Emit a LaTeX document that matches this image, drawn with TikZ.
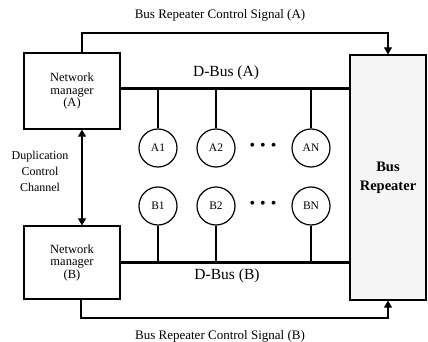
\documentclass[tikz,border=0pt]{standalone}
\usepackage{fontspec}
\setmainfont{Liberation Serif}
\usetikzlibrary{arrows.meta}
\begin{document}
\begin{tikzpicture}[x=1pt,y=-1pt,
  box/.style={draw,line width=1.2pt,inner sep=0pt},
  sig/.style={line width=1.1pt},
  bus/.style={line width=3pt},
  stub/.style={line width=1.1pt},
  station/.style={draw,circle,line width=1.2pt,minimum size=38pt,inner sep=0pt,font=\fontsize{11.5}{12}\selectfont},
  lbl/.style={font=\fontsize{13}{14}\selectfont},
  mgr/.style={box,align=center,font=\fontsize{12.5}{12.5}\selectfont},
  dots/.style={font=\fontsize{16}{16}\selectfont},
  tip/.style={-{Triangle[length=7pt,width=8pt]}}
]
\useasboundingbox (0,0) rectangle (428,342);
% boxes
\node[mgr,minimum width=96pt,minimum height=76pt] (nma) at (72,91) {Network\\manager\\(A)};
\node[mgr,minimum width=96pt,minimum height=73pt] (nmb) at (72,262.5) {Network\\manager\\(B)};
\node[box,fill=black!4,minimum width=76pt,minimum height=245pt,align=center,font=\bfseries\fontsize{14.5}{19}\selectfont] (rep) at (388,177.5) {Bus\\Repeater};
% buses
\coordinate (ba1) at (nma.east |- 0,89);
\coordinate (ba2) at (rep.west |- 0,89);
\coordinate (bb1) at (nmb.east |- 0,262);
\coordinate (bb2) at (rep.west |- 0,262);
\draw[bus] (ba1) -- (ba2);
\draw[bus] (bb1) -- (bb2);
\node[font=\fontsize{15.5}{17}\selectfont] (dba) at (226,73) {D-Bus (A)};
\node[font=\fontsize{15.5}{17}\selectfont] (dbb) at (227,276) {D-Bus (B)};
% stations
\node[station] (a1) at (158,148) {A1};
\node[station] (a2) at (216,148) {A2};
\node[station] (an) at (311,148) {AN};
\node[station] (b1) at (158,206) {B1};
\node[station] (b2) at (216,206) {B2};
\node[station] (bn) at (311,206) {BN};
\node[dots] (da) at (263,147) {\textbullet\hspace{5pt}\textbullet\hspace{5pt}\textbullet};
\node[dots] (db) at (263,205) {\textbullet\hspace{5pt}\textbullet\hspace{5pt}\textbullet};
\foreach \s in {a1,a2,an} \draw[stub] (\s.north) -- (\s.north |- ba1);
\foreach \s in {b1,b2,bn} \draw[stub] (\s.south) -- (\s.south |- bb1);
% control signals
\coordinate (ta) at (82,33);
\coordinate (tb) at (388,33);
\draw[sig,tip] (ta |- nma.north) -- (ta) -- (tb) -- (rep.north);
\coordinate (ua) at (81,318);
\coordinate (ub) at (388,318);
\draw[sig,tip] (ua |- nmb.south) -- (ua) -- (ub) -- (rep.south);
\node[lbl] (sa) at (220,15) {Bus Repeater Control Signal (A)};
\node[lbl] (sb) at (220,336) {Bus Repeater Control Signal (B)};
% duplication channel
\draw[sig,{Triangle[length=7pt,width=8pt]}-{Triangle[length=7pt,width=8pt]}] (82,0 |- nma.south) -- (82,0 |- nmb.north);
\node[align=center,font=\fontsize{12}{16}\selectfont] (dup) at (40,171) {Duplication\\Control\\Channel};
\end{tikzpicture}
\end{document}
